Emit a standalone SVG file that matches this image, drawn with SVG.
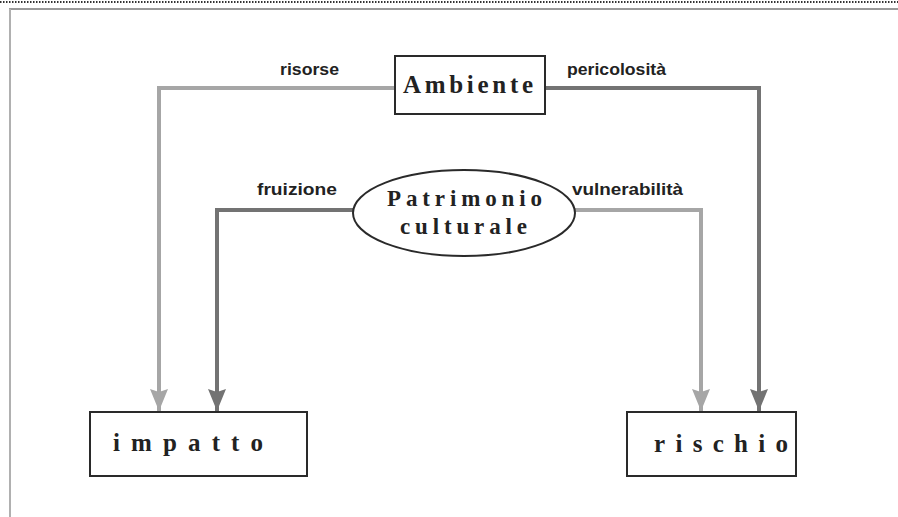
<svg xmlns="http://www.w3.org/2000/svg" width="898" height="517" viewBox="0 0 898 517">
  <style>
    .box { fill: #ffffff; stroke: #2a2a2a; stroke-width: 2; }
    .title { font-family: "Liberation Serif", "Times New Roman", serif; font-weight: bold; font-size: 25px; fill: #222; }
    .sub { font-size: 23px; }
    .label { font-family: "Liberation Sans", Arial, sans-serif; font-weight: bold; font-size: 17px; fill: #222; }
    .light { fill: none; stroke: #a6a6a6; stroke-width: 4; }
    .dark { fill: none; stroke: #737373; stroke-width: 4; }
  </style>
  <defs>
    <!-- arrowheads point along +x; orient="auto" turns them to the line direction -->
    <marker id="headLight" viewBox="0 0 22 18" refX="22" refY="9" markerUnits="userSpaceOnUse" markerWidth="22" markerHeight="18" orient="auto">
      <path d="M0,0 L22,9 L0,18 L3,9 Z" fill="#a6a6a6"/>
    </marker>
    <marker id="headDark" viewBox="0 0 22 18" refX="22" refY="9" markerUnits="userSpaceOnUse" markerWidth="22" markerHeight="18" orient="auto">
      <path d="M0,0 L22,9 L0,18 L3,9 Z" fill="#737373"/>
    </marker>
  </defs>

  <rect width="898" height="517" fill="#ffffff"/>

  <!-- page frame -->
  <g id="frame">
    <line x1="0" y1="2" x2="898" y2="2" stroke="#333" stroke-width="2" stroke-dasharray="1.5 1.5"/>
    <line x1="9" y1="9" x2="898" y2="9" stroke="#9a9a9a" stroke-width="2"/>
    <line x1="10" y1="9" x2="10" y2="517" stroke="#b0b0b0" stroke-width="2"/>
  </g>

  <!-- connectors -->
  <g id="connectors">
    <path class="light" d="M395,88 H159 V411" marker-end="url(#headLight)"/>
    <path class="dark" d="M545,88 H759 V411" marker-end="url(#headDark)"/>
    <path class="dark" d="M353,210 H217 V411" marker-end="url(#headDark)"/>
    <path class="light" d="M575,210 H701 V411" marker-end="url(#headLight)"/>
    <text class="label" x="280" y="75" textLength="59" lengthAdjust="spacingAndGlyphs">risorse</text>
    <text class="label" x="567" y="75" textLength="99" lengthAdjust="spacingAndGlyphs">pericolosità</text>
    <text class="label" x="257" y="195" textLength="80" lengthAdjust="spacingAndGlyphs">fruizione</text>
    <text class="label" x="572" y="195" textLength="111" lengthAdjust="spacingAndGlyphs">vulnerabilità</text>
  </g>

  <g id="ambiente">
    <rect class="box" x="395" y="56" width="150" height="58"/>
    <text class="title" x="403" y="93" textLength="130" lengthAdjust="spacing">Ambiente</text>
  </g>

  <g id="patrimonio">
    <ellipse class="box" cx="464" cy="213" rx="111" ry="43"/>
    <text class="title sub" x="387" y="206" textLength="155" lengthAdjust="spacing">Patrimonio</text>
    <text class="title sub" x="400" y="234" textLength="127" lengthAdjust="spacing">culturale</text>
  </g>

  <g id="impatto">
    <rect class="box" x="90" y="412" width="217" height="64"/>
    <text class="title" x="113" y="451" textLength="150" lengthAdjust="spacing">impatto</text>
  </g>

  <g id="rischio">
    <rect class="box" x="627" y="412" width="169" height="64"/>
    <text class="title" x="654" y="452" textLength="134" lengthAdjust="spacing">rischio</text>
  </g>
</svg>
